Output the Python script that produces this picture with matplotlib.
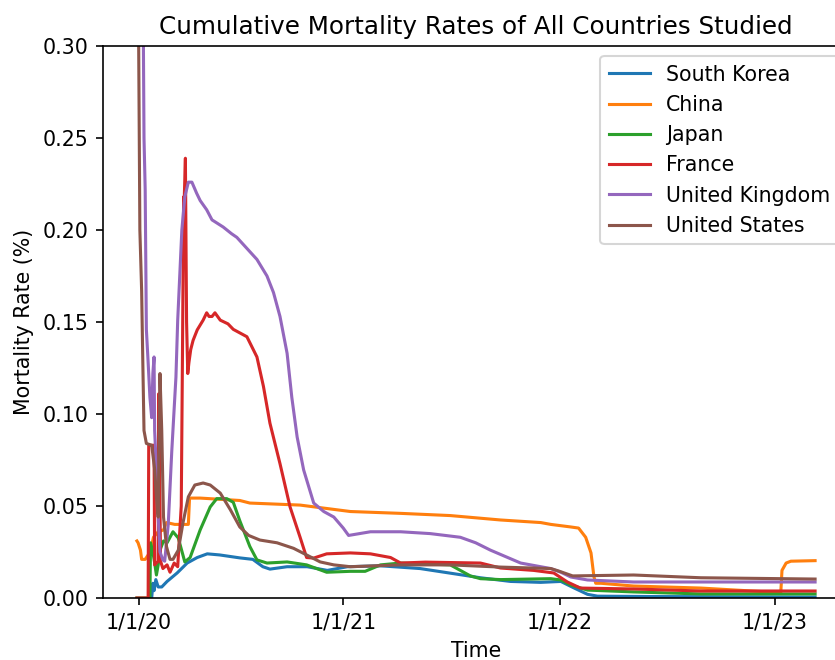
import matplotlib
matplotlib.use("Agg")
import matplotlib.pyplot as plt

# x = day index of the time series (0 = first record)
tick_pos = [3, 349, 715, 1079]
tick_labels = ["1/1/20", "1/1/21", "1/1/22", "1/1/23"]

korea_x = [25, 27, 29, 32, 36, 42, 51, 68, 85, 102, 119, 140, 174, 196, 213, 225, 254, 288, 322, 356,
           412, 479, 530, 581, 632, 683, 717, 739, 762, 779, 869, 1147]
korea_y = [0.0, 0.008, 0.004, 0.010, 0.006, 0.006, 0.009, 0.0136, 0.019, 0.022, 0.024, 0.0234, 0.0218,
           0.021, 0.017, 0.0157, 0.017, 0.017, 0.015, 0.017, 0.0175, 0.016, 0.0135, 0.011, 0.009, 0.0085,
           0.009, 0.0055, 0.002, 0.001, 0.0008, 0.0005]

china_x = [0, 2, 6, 8, 14, 19, 24, 28, 36, 45, 50, 64, 87, 89, 107, 174, 191, 276, 361, 446, 530, 615,
           683, 700, 734, 747, 759, 768, 773, 776, 785, 840, 954, 1067, 1089, 1091, 1098, 1106, 1147]
china_y = [0.031, 0.030, 0.026, 0.021, 0.021, 0.0234, 0.027, 0.033, 0.036, 0.037, 0.041, 0.040, 0.040,
           0.0543, 0.0543, 0.053, 0.0516, 0.0505, 0.047, 0.046, 0.0448, 0.0424, 0.0410, 0.040, 0.0386,
           0.038, 0.033, 0.0245, 0.0115, 0.008, 0.008, 0.0065, 0.0054, 0.0033, 0.003, 0.015, 0.019,
           0.020, 0.0203]

japan_x = [0, 22, 23, 27, 30, 33, 36, 39, 45, 51, 61, 70, 81, 90, 107, 124, 135, 152, 163, 174, 191,
           203, 220, 254, 287, 321, 361, 386, 412, 446, 530, 564, 581, 615, 700, 717, 734, 762, 840,
           954, 1147]
japan_y = [0.0, 0.0, 0.030, 0.025, 0.019, 0.0125, 0.018, 0.026, 0.031, 0.030, 0.036, 0.0326, 0.0196,
           0.022, 0.037, 0.0495, 0.054, 0.054, 0.052, 0.042, 0.028, 0.0207, 0.019, 0.0196, 0.018,
           0.014, 0.0145, 0.0145, 0.018, 0.019, 0.018, 0.012, 0.0105, 0.010, 0.0105, 0.0098, 0.007,
           0.0043, 0.0033, 0.0022, 0.0022]

france_x = [0, 19, 20, 29, 30, 36, 37, 40, 44, 51, 56, 63, 69, 75, 77, 79, 80, 82, 84, 86, 88, 91, 95,
            102, 112, 118, 122, 127, 132, 141, 154, 163, 186, 203, 214, 225, 242, 259, 276, 287, 299,
            321, 361, 395, 429, 446, 488, 581, 615, 671, 705, 728, 750, 840, 954, 1147]
france_y = [0.0, 0.0, 0.083, 0.083, 0.018, 0.020, 0.111, 0.020, 0.016, 0.018, 0.014, 0.019, 0.017,
            0.050, 0.130, 0.218, 0.216, 0.239, 0.150, 0.122, 0.128, 0.135, 0.140, 0.1457, 0.151, 0.155,
            0.153, 0.153, 0.155, 0.151, 0.149, 0.146, 0.142, 0.131, 0.115, 0.095, 0.073, 0.0495, 0.033,
            0.022, 0.0217, 0.024, 0.0245, 0.024, 0.022, 0.019, 0.0195, 0.019, 0.0163, 0.015, 0.0136,
            0.0087, 0.0054, 0.0049, 0.0038, 0.0038]

uk_x = [10, 11, 12, 14, 16, 19, 22, 25, 27, 29, 30, 33, 36, 39, 44, 47, 53, 59, 66, 69, 76, 81, 87, 93,
        101, 107, 118, 127, 146, 160, 169, 186, 203, 220, 231, 242, 254, 262, 271, 282, 299, 316, 333,
        349, 358, 395, 446, 496, 547, 573, 598, 649, 700, 717, 734, 762, 840, 1147]
uk_y = [0.40, 0.30, 0.25, 0.222, 0.146, 0.128, 0.109, 0.098, 0.122, 0.131, 0.091, 0.070, 0.044, 0.025,
        0.0207, 0.020, 0.040, 0.080, 0.120, 0.151, 0.200, 0.218, 0.226, 0.226, 0.220, 0.216, 0.211,
        0.2055, 0.2016, 0.198, 0.196, 0.190, 0.184, 0.175, 0.166, 0.153, 0.133, 0.109, 0.0875, 0.0696,
        0.0516, 0.047, 0.044, 0.038, 0.034, 0.036, 0.036, 0.035, 0.033, 0.030, 0.026, 0.019, 0.016,
        0.014, 0.0114, 0.0098, 0.0087, 0.0087]

us_x = [0, 3, 5, 8, 10, 12, 16, 25, 30, 33, 36, 38, 39, 42, 45, 50, 56, 61, 70, 78, 87, 98, 112, 124,
        141, 158, 174, 189, 208, 237, 265, 287, 310, 333, 361, 446, 530, 615, 700, 713, 737, 840, 954,
        1147]
us_y = [0.45, 0.30, 0.200, 0.167, 0.128, 0.091, 0.084, 0.083, 0.070, 0.055, 0.044, 0.100, 0.122, 0.091,
        0.044, 0.028, 0.021, 0.021, 0.026, 0.041, 0.055, 0.0614, 0.0625, 0.0614, 0.057, 0.048, 0.0386,
        0.034, 0.0315, 0.030, 0.027, 0.0234, 0.0196, 0.018, 0.017, 0.018, 0.018, 0.0168, 0.016, 0.0147,
        0.012, 0.0125, 0.011, 0.0103]

series = [
    ("South Korea", korea_x, korea_y),
    ("China", china_x, china_y),
    ("Japan", japan_x, japan_y),
    ("France", france_x, france_y),
    ("United Kingdom", uk_x, uk_y),
    ("United States", us_x, us_y),
]

DPI = 148
fig = plt.figure(figsize=(836 / DPI, 660 / DPI), dpi=DPI)
ax = fig.add_axes([103 / 836, 62 / 660, 746 / 836, 552 / 660])

for name, xs, ys in series:
    ax.plot(xs, ys, label=name)

ax.set_ylim(0, 0.30)
ax.set_xticks(tick_pos)
ax.set_xticklabels(tick_labels)
ax.set_xlabel("Time")
ax.set_ylabel("Mortality Rate (%)")
ax.set_title("Cumulative Mortality Rates of All Countries Studied")
ax.legend(loc="upper right")

fig.savefig("out.png", dpi=DPI)
